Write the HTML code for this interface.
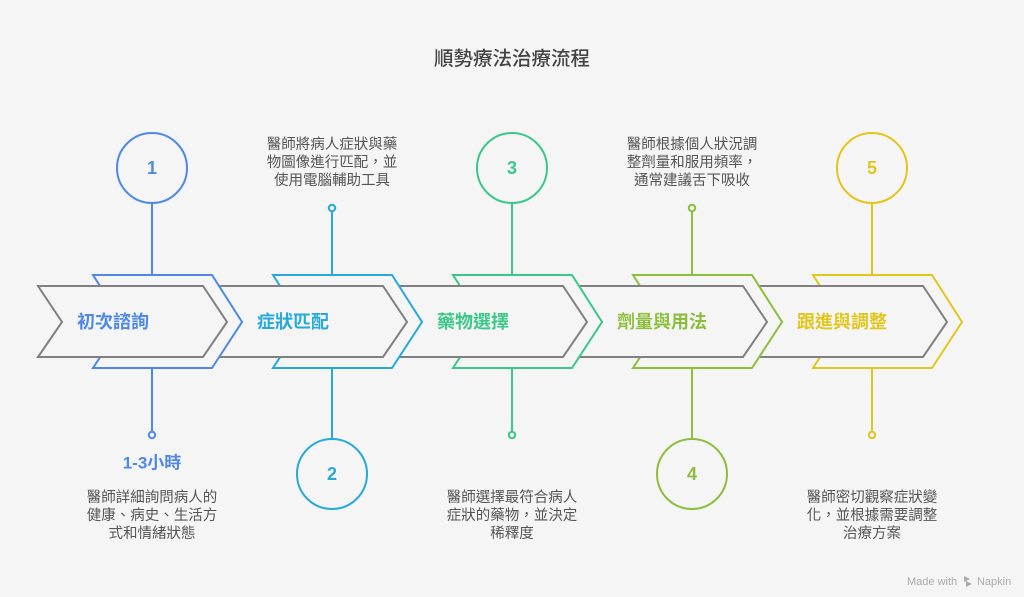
<!DOCTYPE html>
<html><head><meta charset="utf-8"><style>
html,body{margin:0;padding:0;background:#f4f5f4;}
svg{display:block;}
text{font-family:"Liberation Sans","Noto Sans CJK TC",sans-serif;}
</style></head><body>
<svg width="1024" height="597" viewBox="0 0 1024 597" xmlns="http://www.w3.org/2000/svg">
<rect width="1024" height="597" fill="#f4f5f4"/>
<text x="512" y="59" text-anchor="middle" dominant-baseline="central" font-size="19.5" font-weight="500" fill="#444">順勢療法治療流程</text>

<!-- vertical lines -->
<g stroke-width="2" fill="none">
<line x1="152" y1="203" x2="152" y2="276" stroke="#4f88e6"/>
<line x1="152" y1="367" x2="152" y2="432" stroke="#4f88e6"/>
<line x1="332" y1="211" x2="332" y2="276" stroke="#27a9d9"/>
<line x1="332" y1="367" x2="332" y2="439" stroke="#27a9d9"/>
<line x1="512" y1="203" x2="512" y2="276" stroke="#3cc78a"/>
<line x1="512" y1="367" x2="512" y2="432" stroke="#3cc78a"/>
<line x1="692" y1="211" x2="692" y2="276" stroke="#8dbf3d"/>
<line x1="692" y1="367" x2="692" y2="439" stroke="#8dbf3d"/>
<line x1="872" y1="203" x2="872" y2="276" stroke="#e1c61c"/>
<line x1="872" y1="367" x2="872" y2="432" stroke="#e1c61c"/>
</g>

<!-- chevrons drawn from last to first -->
<g stroke-width="2" fill="#f4f5f4" stroke-linejoin="miter">
<polygon points="813,275 932,275 962,322 932,368 813,368 843,322" stroke="#e1c61c"/>
<polygon points="758,286 923,286 947,322 923,357 758,357 782,322" stroke="#808080"/>
<polygon points="633,275 752,275 782,322 752,368 633,368 663,322" stroke="#8dbf3d"/>
<polygon points="578,286 743,286 767,322 743,357 578,357 602,322" stroke="#808080"/>
<polygon points="453,275 572,275 602,322 572,368 453,368 483,322" stroke="#3cc78a"/>
<polygon points="398,286 563,286 587,322 563,357 398,357 422,322" stroke="#808080"/>
<polygon points="273,275 392,275 422,322 392,368 273,368 303,322" stroke="#27a9d9"/>
<polygon points="218,286 383,286 407,322 383,357 218,357 242,322" stroke="#808080"/>
<polygon points="93,275 212,275 242,322 212,368 93,368 123,322" stroke="#4f88e6"/>
<polygon points="38,286 203,286 227,322 203,357 38,357 62,322" stroke="#808080"/>
</g>

<!-- chevron labels -->
<g font-size="18" font-weight="bold" dominant-baseline="central">
<text x="77" y="322" fill="#4f88e6">初次諮詢</text>
<text x="257" y="322" fill="#27a9d9">症狀匹配</text>
<text x="437" y="322" fill="#3cc78a">藥物選擇</text>
<text x="617" y="322" fill="#8dbf3d">劑量與用法</text>
<text x="797" y="322" fill="#e1c61c">跟進與調整</text>
</g>

<!-- circles -->
<g stroke-width="2" fill="#f4f5f4">
<circle cx="152" cy="168" r="35" stroke="#4f88e6"/>
<circle cx="332" cy="474" r="35" stroke="#27a9d9"/>
<circle cx="512" cy="168" r="35" stroke="#3cc78a"/>
<circle cx="692" cy="474" r="35" stroke="#8dbf3d"/>
<circle cx="872" cy="168" r="35" stroke="#e1c61c"/>
<circle cx="152" cy="435" r="3.2" stroke="#4f88e6"/>
<circle cx="332" cy="208" r="3.2" stroke="#27a9d9"/>
<circle cx="512" cy="435" r="3.2" stroke="#3cc78a"/>
<circle cx="692" cy="208" r="3.2" stroke="#8dbf3d"/>
<circle cx="872" cy="435" r="3.2" stroke="#e1c61c"/>
</g>
<g font-size="18" font-weight="bold" text-anchor="middle" dominant-baseline="central">
<text x="152" y="168" fill="#4f88e6">1</text>
<text x="332" y="474" fill="#27a9d9">2</text>
<text x="512" y="168" fill="#3cc78a">3</text>
<text x="692" y="474" fill="#8dbf3d">4</text>
<text x="872" y="168" fill="#e1c61c">5</text>
</g>

<text x="152" y="463" text-anchor="middle" dominant-baseline="central" font-size="17" font-weight="bold" fill="#4f88e6">1-3小時</text>

<!-- descriptions -->
<g font-size="14.5" fill="#555" text-anchor="middle" dominant-baseline="central">
<text x="152" y="498">醫師詳細詢問病人的</text>
<text x="152" y="516">健康、病史、生活方</text>
<text x="152" y="534">式和情緒狀態</text>

<text x="332" y="145">醫師將病人症狀與藥</text>
<text x="332" y="163">物圖像進行匹配，並</text>
<text x="332" y="181">使用電腦輔助工具</text>

<text x="512" y="498">醫師選擇最符合病人</text>
<text x="512" y="516">症狀的藥物，並決定</text>
<text x="512" y="534">稀釋度</text>

<text x="692" y="145">醫師根據個人狀況調</text>
<text x="692" y="163">整劑量和服用頻率，</text>
<text x="692" y="181">通常建議舌下吸收</text>

<text x="872" y="498">醫師密切觀察症狀變</text>
<text x="872" y="516">化，並根據需要調整</text>
<text x="872" y="534">治療方案</text>
</g>

<!-- Made with Napkin -->
<g fill="#ababab" font-size="11" dominant-baseline="central">
<text x="907" y="582">Made with</text>
<path d="M964,576 l6,3 l-6,3 z M966,581 l6,3 l-6,3 z" fill="#ababab"/>
<text x="977" y="582">Napkin</text>
</g>
</svg>
</body></html>
